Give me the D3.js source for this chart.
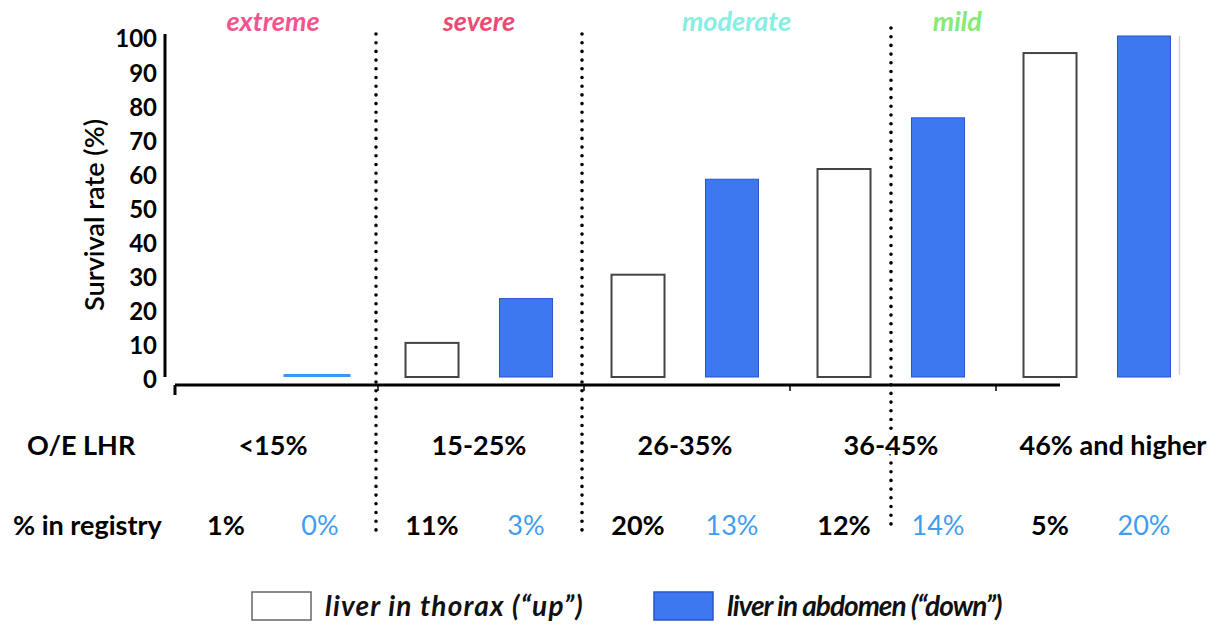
<!DOCTYPE html>
<html>
<head>
<meta charset="utf-8">
<script src="https://cdn.jsdelivr.net/npm/d3@7"></script>
<style>
  body { margin: 0; background: #fff; }
  svg { display: block; font-family: Lato, "Open Sans", sans-serif; }
</style>
</head>
<body>
<svg id="chart"></svg>
<script>
const width = 1225;
const height = 626;

// data
const groups = ['<15%', '15-25%', '26-35%', '36-45%', '46% and higher'];
const series = ['up', 'down'];
const upValues = [0, 10, 30, 61, 95];      // liver in thorax
const downValues = [1, 23, 58, 76, 100];   // liver in abdomen
const upRegistry = ['1%', '11%', '20%', '12%', '5%'];
const downRegistry = ['0%', '3%', '13%', '14%', '20%'];
const yTicks = [0, 10, 20, 30, 40, 50, 60, 70, 80, 90, 100];
const severity = ['extreme', 'severe', 'moderate', 'mild'];
const severityColors = ['#f2548e', '#ec4a72', '#86eee2', '#86ea74'];
const legendLabels = ['liver in thorax (\u201cup\u201d)', 'liver in abdomen (\u201cdown\u201d)'];

const svg = d3.select('#chart')
    .attr('width', width)
    .attr('height', height);

// scales
const x0 = d3.scaleBand().domain(groups).range([170, 1200]);
const x1 = d3.scaleBand().domain(series).range([0, x0.bandwidth()])
    .paddingInner(0.436).paddingOuter(0.314);
const y = d3.scaleLinear().domain([0, 100]).range([377, 36]);

const blue = '#3d78f0';
const barCenter = (g, s) => x0(g) + x1(s) + x1.bandwidth() / 2;

// dividers: after group 1, after group 2, middle of group 4
const dividers = [x0(groups[1]), x0(groups[2]), x0(groups[3]) + x0.bandwidth() / 2];
svg.selectAll('.divider')
    .data(dividers)
    .enter()
    .append('line')
    .attr('class', 'divider')
    .attr('x1', d => d).attr('x2', d => d)
    .attr('y1', (d, i) => i === 2 ? 28 : 34).attr('y2', 532)
    .attr('stroke', '#000')
    .attr('stroke-width', 3.6)
    .attr('stroke-linecap', 'round')
    .attr('stroke-dasharray', '0,8.7');

// severity labels, centred between dividers (mild ends at the last "up" bar)
const spanEdges = [x0(groups[0]), dividers[0], dividers[1], dividers[2], x0(groups[4]) + x1('up')];
svg.selectAll('.sev')
    .data(severity)
    .enter()
    .append('text')
    .attr('class', 'sev')
    .attr('x', (d, i) => (spanEdges[i] + spanEdges[i + 1]) / 2)
    .attr('y', 31)
    .attr('text-anchor', 'middle')
    .attr('font-size', 27)
    .attr('font-weight', 'bold')
    .attr('font-style', 'italic')
    .attr('fill', (d, i) => severityColors[i])
    .text(d => d);

// y axis
svg.append('line')
    .attr('x1', 165).attr('x2', 165)
    .attr('y1', y(100) - 2).attr('y2', y(0))
    .attr('stroke', '#000').attr('stroke-width', 3);

svg.selectAll('.ytick')
    .data(yTicks)
    .enter()
    .append('text')
    .attr('class', 'ytick')
    .attr('x', 157)
    .attr('y', d => y(d) + 3)
    .attr('dy', '0.35em')
    .attr('text-anchor', 'end')
    .attr('font-size', 24)
    .attr('font-weight', 'bold')
    .text(d => d);

svg.append('text')
    .attr('transform', 'translate(104,215) rotate(-90)')
    .attr('text-anchor', 'middle')
    .attr('font-size', 27.5)
    .attr('font-weight', 600)
    .attr('textLength', 192)
    .attr('lengthAdjust', 'spacingAndGlyphs')
    .text('Survival rate (%)');

// baseline with small ticks at group edges
const axisEnd = barCenter(groups[4], 'up') + 10;
svg.append('line')
    .attr('x1', 175).attr('x2', axisEnd)
    .attr('y1', 385).attr('y2', 385)
    .attr('stroke', '#000').attr('stroke-width', 3);
svg.selectAll('.xtick')
    .data(groups)
    .enter()
    .append('line')
    .attr('class', 'xtick')
    .attr('x1', (d, i) => i === 0 ? 175 : x0(d) + 2)
    .attr('x2', (d, i) => i === 0 ? 175 : x0(d) + 2)
    .attr('y1', 385).attr('y2', (d, i) => i === 0 ? 395 : 391)
    .attr('stroke', '#000').attr('stroke-width', (d, i) => i === 0 ? 3 : 1.5);

// bars
const barData = [];
groups.forEach((g, i) => {
    barData.push({ g: g, s: 'up', v: upValues[i] });
    barData.push({ g: g, s: 'down', v: downValues[i] });
});

svg.selectAll('.bar')
    .data(barData.filter(d => d.v > 2))
    .enter()
    .append('rect')
    .attr('class', 'bar')
    .attr('x', d => x0(d.g) + x1(d.s))
    .attr('y', d => y(d.v))
    .attr('width', x1.bandwidth())
    .attr('height', d => y(0) - y(d.v))
    .attr('fill', d => d.s === 'up' ? '#fff' : blue)
    .attr('stroke', d => d.s === 'up' ? '#444' : '#2a55c8')
    .attr('stroke-width', d => d.s === 'up' ? 2 : 1);

// near-zero bar drawn as a thin line
svg.selectAll('.flat')
    .data(barData.filter(d => d.v > 0 && d.v <= 2))
    .enter()
    .append('line')
    .attr('class', 'flat')
    .attr('x1', d => x0(d.g) + x1(d.s) - 10)
    .attr('x2', d => x0(d.g) + x1(d.s) + x1.bandwidth() + 4)
    .attr('y1', d => y(d.v) + 2).attr('y2', d => y(d.v) + 2)
    .attr('stroke', '#3a98f0').attr('stroke-width', 3);

// faint edge line right of the last bar
const edgeX = x0(groups[4]) + x1('down') + x1.bandwidth() + 9;
svg.append('line')
    .attr('x1', edgeX).attr('x2', edgeX)
    .attr('y1', y(100)).attr('y2', y(0) - 2)
    .attr('stroke', '#d8d0d8').attr('stroke-width', 1.5);

// O/E LHR row
svg.append('text')
    .attr('x', 27).attr('y', 455)
    .attr('font-size', 27).attr('font-weight', 'bold')
    .text('O/E LHR');

svg.selectAll('.grp')
    .data(groups)
    .enter()
    .append('text')
    .attr('class', 'grp')
    .attr('x', d => x0(d) + x0.bandwidth() / 2 + (d === groups[4] ? 16 : 0))
    .attr('y', 455)
    .attr('text-anchor', 'middle')
    .attr('font-size', 27).attr('font-weight', 'bold')
    .attr('fill', '#000')
    .attr('stroke', '#fff').attr('stroke-width', 8)
    .attr('paint-order', 'stroke')
    .text(d => d);

// % in registry row
svg.append('text')
    .attr('x', 13).attr('y', 535)
    .attr('font-size', 27).attr('font-weight', 'bold')
    .text('% in registry');

svg.selectAll('.regUp')
    .data(groups)
    .enter()
    .append('text')
    .attr('class', 'regUp')
    .attr('x', d => barCenter(d, 'up'))
    .attr('y', 535)
    .attr('text-anchor', 'middle')
    .attr('font-size', 27).attr('font-weight', 'bold')
    .text((d, i) => upRegistry[i]);

svg.selectAll('.regDown')
    .data(groups)
    .enter()
    .append('text')
    .attr('class', 'regDown')
    .attr('x', d => barCenter(d, 'down'))
    .attr('y', 535)
    .attr('text-anchor', 'middle')
    .attr('font-size', 27)
    .attr('fill', '#3f9cf0')
    .text((d, i) => downRegistry[i]);

// legend
const legendX = [252, 654];
const legendSpacing = [1.2, -1];
const legend = svg.selectAll('.legend')
    .data(series)
    .enter()
    .append('g')
    .attr('class', 'legend')
    .attr('transform', (d, i) => `translate(${legendX[i]},592)`);

legend.append('rect')
    .attr('width', 59).attr('height', 28)
    .attr('fill', d => d === 'up' ? '#fff' : blue)
    .attr('stroke', d => d === 'up' ? '#666' : '#2a55c8')
    .attr('stroke-width', 1.5);

legend.append('text')
    .attr('x', 73).attr('y', 24)
    .attr('font-size', 28)
    .attr('font-style', 'italic')
    .attr('font-weight', 'bold')
    .attr('fill', '#111')
    .attr('letter-spacing', (d, i) => legendSpacing[i])
    .text((d, i) => legendLabels[i]);
</script>
</body>
</html>
